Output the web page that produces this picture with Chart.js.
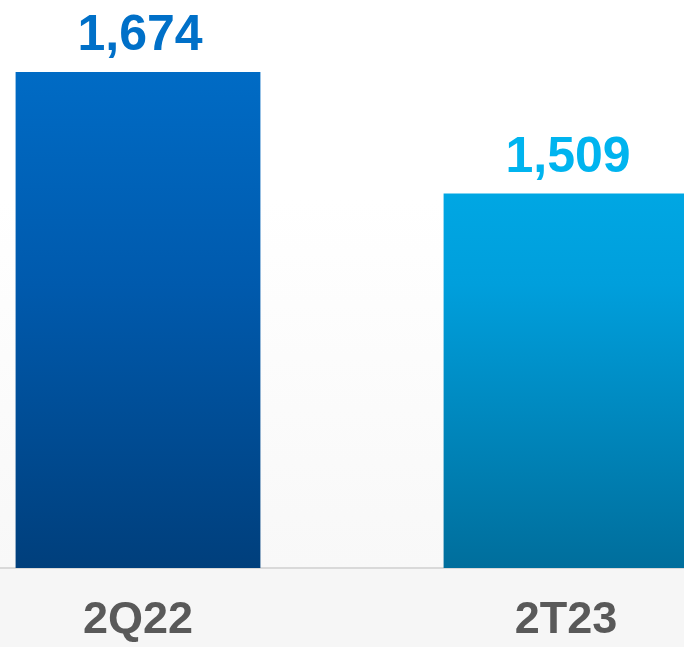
<!DOCTYPE html>
<html>
<head>
<meta charset="utf-8">
<script src="https://cdn.jsdelivr.net/npm/chart.js@4"></script>
<style>
  html, body { margin: 0; padding: 0; overflow: hidden; background: #f6f6f6; }
  body { width: 684px; height: 647px; position: relative; }
  /* Plotbereich breiter/hoeher als das Fenster, damit die Balken so sitzen wie im Original */
  #wrap { position: absolute; left: -76px; top: 0; width: 856px; height: 674px; }
</style>
</head>
<body>
<div id="wrap"><canvas id="myChart" width="856" height="674"></canvas></div>
<script>
// Daten ----------------------------------------------------------------
const labels = ["2Q22", "2T23"];
const values = [1674, 1509];
const valueLabels = ["1,674", "1,509"];
const yMin = 1000;
const yMax = 1772;
// Farben pro Balken: [oben, mitte, unten]
const barColors = [
  ["#0071cd", "#005aad", "#003f7c"],
  ["#00b7f3", "#009fdc", "#006e9c"]
];
const labelColors = ["#0070c8", "#00b4ef"];
// ----------------------------------------------------------------------

// Verlauf fuer jeden Balken, von seiner Oberkante bis zur Grundlinie
function barGradient(context) {
  const chart = context.chart;
  const area = chart.chartArea;
  if (!area) return barColors[context.dataIndex][0];
  const meta = chart.getDatasetMeta(0);
  const bar = meta.data[context.dataIndex];
  const top = bar && isFinite(bar.y) ? bar.y : area.top;
  const g = chart.ctx.createLinearGradient(0, top, 0, area.bottom);
  const c = barColors[context.dataIndex];
  g.addColorStop(0, c[0]);
  g.addColorStop(0.5, c[1]);
  g.addColorStop(1, c[2]);
  return g;
}

// Hintergrund: oben weiss, leicht grau nach unten, unter der Achse grau
const bgPlugin = {
  id: 'bg',
  beforeDraw(chart) {
    const { ctx, chartArea, width, height } = chart;
    ctx.save();
    const g = ctx.createLinearGradient(0, 0, 0, chartArea.bottom);
    g.addColorStop(0, "#ffffff");
    g.addColorStop(0.35, "#ffffff");
    g.addColorStop(1, "#f8f8f8");
    ctx.fillStyle = g;
    ctx.fillRect(0, 0, width, chartArea.bottom);
    ctx.fillStyle = "#f6f6f6";
    ctx.fillRect(0, chartArea.bottom, width, height - chartArea.bottom);
    ctx.restore();
  }
};

// Werte ueber den Balken
const valuePlugin = {
  id: 'values',
  afterDatasetsDraw(chart) {
    const ctx = chart.ctx;
    const meta = chart.getDatasetMeta(0);
    ctx.save();
    ctx.font = "bold 50px 'Liberation Sans', Arial, sans-serif";
    ctx.textAlign = "center";
    ctx.textBaseline = "alphabetic";
    meta.data.forEach((bar, i) => {
      ctx.fillStyle = labelColors[i];
      ctx.fillText(valueLabels[i], bar.x + 2, bar.y - 22);
    });
    ctx.restore();
  }
};

const ctx = document.getElementById('myChart').getContext('2d');
const myChart = new Chart(ctx, {
  type: 'bar',
  data: {
    labels: labels,
    datasets: [{
      data: values,
      backgroundColor: barGradient,
      borderWidth: 0,
      categoryPercentage: 1,
      barPercentage: 0.572
    }]
  },
  options: {
    responsive: false,
    animation: false,
    layout: { padding: 0 },
    scales: {
      x: {
        grid: { display: false, drawTicks: false },
        border: { display: true, color: "#d9d9d9", width: 2 },
        ticks: {
          padding: 26,
          color: "#595959",
          font: { family: "'Liberation Sans', Arial, sans-serif", size: 45, weight: "bold" }
        }
      },
      y: {
        display: false,
        min: yMin,
        max: yMax
      }
    },
    plugins: {
      legend: { display: false },
      tooltip: { enabled: false }
    }
  },
  plugins: [bgPlugin, valuePlugin]
});
</script>
</body>
</html>
